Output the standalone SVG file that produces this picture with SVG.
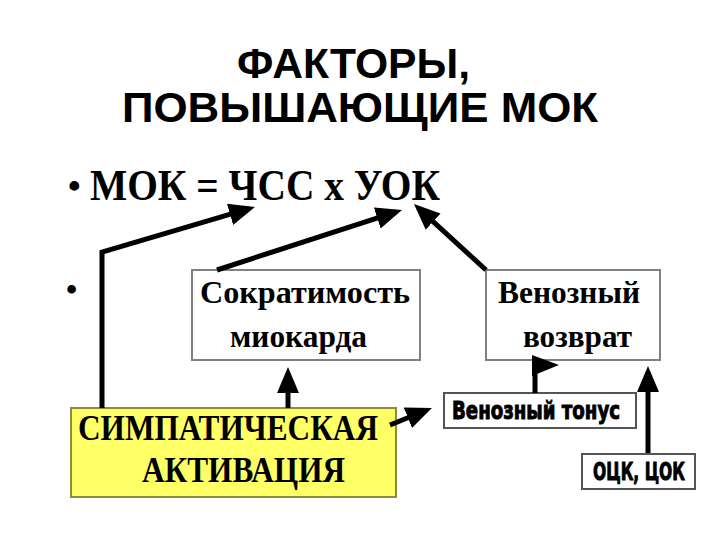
<svg xmlns="http://www.w3.org/2000/svg" width="720" height="540" viewBox="0 0 720 540">
<style>
.title{font-family:"Liberation Sans",Arial,sans-serif;font-weight:bold;font-size:42px;fill:#000}
.serif{font-family:"Liberation Serif","Times New Roman",serif;font-weight:bold;fill:#000}
.cond{font-family:"DejaVu Sans Condensed","Liberation Sans Narrow","Liberation Sans",sans-serif;font-weight:bold;fill:#000;stroke:#000;stroke-width:0.9}
.box{fill:#fff;stroke:#808080;stroke-width:2}
.box2{fill:#fff;stroke:#555;stroke-width:2}
.yel{fill:#FFFF66;stroke:#8C8C3C;stroke-width:2}
.conn{fill:none;stroke:#000;stroke-width:5;stroke-linejoin:miter}
</style>
<defs>
<marker id="ah" markerUnits="userSpaceOnUse" markerWidth="26" markerHeight="22" refX="20" refY="11" orient="auto" viewBox="0 0 26 22">
<path d="M0,0 L26,11 L0,22 Z" fill="#000"/>
</marker>
</defs>
<rect width="720" height="540" fill="#fff"/>
<g id="title">
<text class="title" x="237" y="78" textLength="233" lengthAdjust="spacingAndGlyphs">ФАКТОРЫ,</text>
<text class="title" x="122" y="122" textLength="476" lengthAdjust="spacingAndGlyphs">ПОВЫШАЮЩИЕ МОК</text>
</g>
<g id="formula">
<text class="serif" x="68" y="198" font-size="36">•</text>
<text class="serif" x="90" y="200" font-size="44" textLength="350" lengthAdjust="spacingAndGlyphs">МОК = ЧСС х УОК</text>
</g>
<g id="bullet2">
<text class="serif" x="66" y="300" font-size="32">•</text>
</g>
<g id="contractility">
<rect class="box" x="192" y="270" width="228" height="90"/>
<text class="serif" x="200" y="303" font-size="31" textLength="210" lengthAdjust="spacingAndGlyphs">Сократимость</text>
<text class="serif" x="230" y="347" font-size="31" textLength="137" lengthAdjust="spacingAndGlyphs">миокарда</text>
</g>
<g id="venous-return">
<rect class="box" x="486" y="270" width="174" height="90"/>
<text class="serif" x="498" y="303" font-size="31" textLength="142" lengthAdjust="spacingAndGlyphs">Венозный</text>
<text class="serif" x="523" y="347" font-size="31" textLength="109" lengthAdjust="spacingAndGlyphs">возврат</text>
</g>
<g id="sympathetic">
<rect class="yel" x="71" y="408" width="325" height="89"/>
<text class="serif" x="78" y="440" font-size="36" textLength="300" lengthAdjust="spacingAndGlyphs">СИМПАТИЧЕСКАЯ</text>
<text class="serif" x="142" y="482" font-size="36" textLength="203" lengthAdjust="spacingAndGlyphs">АКТИВАЦИЯ</text>
</g>
<g id="venous-tone">
<rect class="box2" x="444" y="393" width="192" height="35"/>
<text class="cond" x="452" y="419" font-size="24" textLength="168" lengthAdjust="spacingAndGlyphs">Венозный тонус</text>
</g>
<g id="bcv">
<rect class="box2" x="582" y="454" width="113" height="35"/>
<text class="cond" x="593" y="480" font-size="24" textLength="92" lengthAdjust="spacingAndGlyphs">ОЦК, ЦОК</text>
</g>
<g id="connectors">
<polyline class="conn" points="102,408 102,252 249.2,208.7" marker-end="url(#ah)"/>
<line class="conn" x1="217" y1="270" x2="396.3" y2="211.8" marker-end="url(#ah)"/>
<line class="conn" x1="486" y1="270" x2="418.4" y2="208.1" marker-end="url(#ah)"/>
<line class="conn" x1="288" y1="408" x2="288" y2="373" marker-end="url(#ah)"/>
<line class="conn" x1="648" y1="453" x2="648" y2="372" marker-end="url(#ah)"/>
<line class="conn" x1="390" y1="425" x2="426.4" y2="410.3" marker-end="url(#ah)"/>
<line class="conn" x1="535" y1="393" x2="535" y2="358"/>
<polygon points="532,355 559,365 532,376" fill="#000"/>
</g>
</svg>
